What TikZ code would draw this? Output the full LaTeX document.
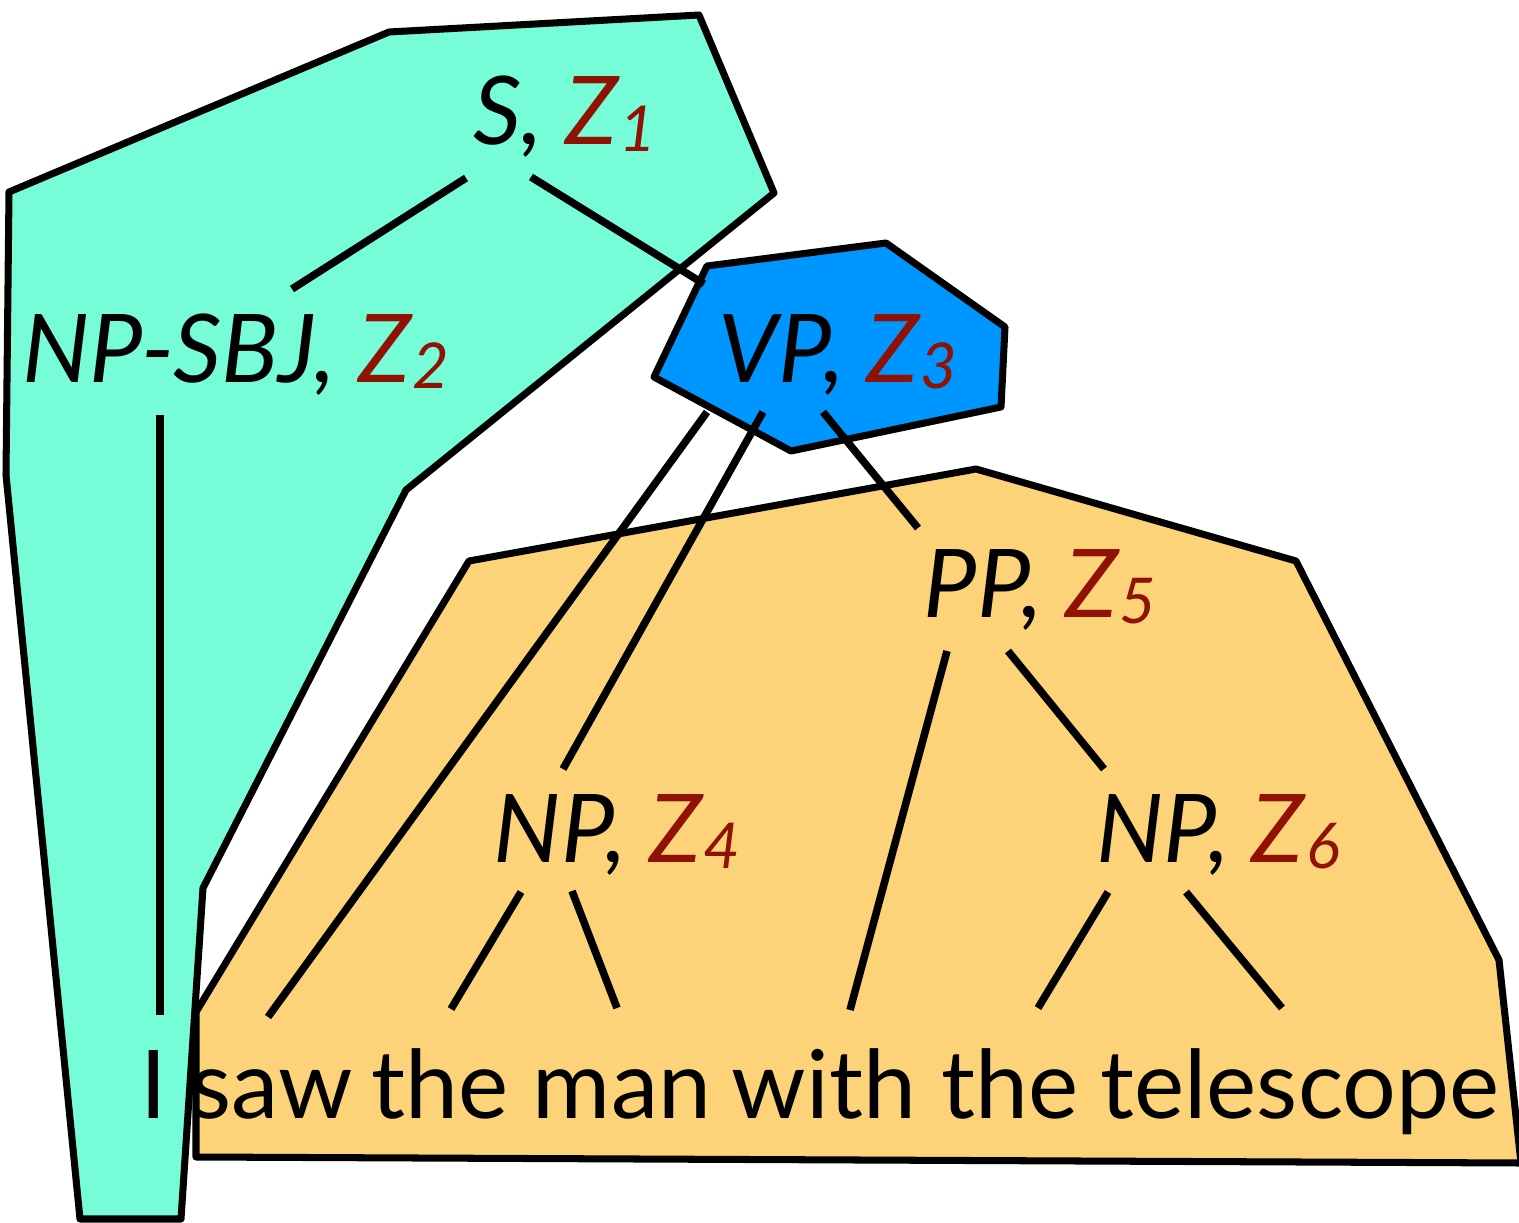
\documentclass[tikz,border=0pt]{standalone}
\usepackage{fontspec}
\setmainfont{Lato}
\usetikzlibrary{positioning}
\definecolor{chunkgreen}{RGB}{119,252,216}
\definecolor{chunkblue}{RGB}{0,150,255}
\definecolor{chunkorange}{RGB}{253,211,122}
\definecolor{zred}{RGB}{143,18,5}
\newcommand{\zsub}[1]{\textcolor{zred}{Z\kern1pt\raisebox{-3.5pt}{\fontsize{36}{36}\selectfont #1}}}

\begin{document}
\begin{tikzpicture}[x=0.02cm,y=-0.02cm]
\tikzset{
  chunk/.style={draw=black,line width=4pt,line join=round},
  branch/.style={draw=black,line width=4.3pt},
  catlabel/.style={anchor=base,inner sep=0pt,font=\fontsize{54}{60}\selectfont\itshape},
  word/.style={anchor=base,inner sep=0pt,font=\fontsize{54}{60}\selectfont}
}
\useasboundingbox (0,0) rectangle (1519,1223);
% chunks
\path[chunk,fill=chunkgreen] (389,32) -- (699,15) -- (774,193) -- (406,490) -- (203,888) -- (181,1219) -- (80,1219) -- (6,475) -- (9,192) -- cycle;
\path[chunk,fill=chunkorange] (469,561) -- (976,469) -- (1296,561) -- (1499,960) -- (1521,1163) -- (196,1157) -- (196,1012) -- cycle;
\path[chunk,fill=chunkblue] (707,266) -- (886,243) -- (1005,327) -- (1001,407) -- (791,451) -- (654,377) -- cycle;
% labels
\node[catlabel] (n_S) at (565,145) {S, \zsub{1}};
\node[catlabel] (n_NPSBJ) at (236,382) {NP-SBJ, \zsub{2}};
\node[catlabel] (n_VP) at (838,382) {VP, \zsub{3}};
\node[catlabel] (n_PP) at (1040,617) {PP, \zsub{5}};
\node[catlabel] (n_NPa) at (617,862) {NP, \zsub{4}};
\node[catlabel] (n_NPb) at (1218,862) {NP, \zsub{6}};
% words
\node[word] (w_I) at (154,1118) {I};
\node[word] (w_saw) at (272,1118) {saw};
\node[word] (w_the) at (440,1118) {the};
\node[word] (w_man) at (622,1118) {man};
\node[word] (w_with) at (824,1118) {with};
\node[word] (w_theb) at (1010,1118) {the};
\node[word] (w_telescope) at (1300,1118) {telescope};
% branch ends
\coordinate (S_l) at (466,178);
\coordinate (S_r) at (531,177);
\coordinate (NPSBJ_t) at (292,289);
\coordinate (NPSBJ_b) at (160,415);
\coordinate (VP_t) at (704,284);
\coordinate (VP_l) at (707,412);
\coordinate (VP_m) at (763,412);
\coordinate (VP_r) at (823,412);
\coordinate (NPa_t) at (563,769);
\coordinate (NPa_l) at (521,892);
\coordinate (NPa_r) at (572,891);
\coordinate (PP_t) at (918,528);
\coordinate (PP_l) at (947,651);
\coordinate (PP_r) at (1008,651);
\coordinate (NPb_t) at (1104,769);
\coordinate (NPb_l) at (1108,892);
\coordinate (NPb_r) at (1186,892);
\coordinate (I_t) at (160,1015);
\coordinate (saw_t) at (268,1017);
\coordinate (the_t) at (451,1009);
\coordinate (man_t) at (617,1008);
\coordinate (with_t) at (850,1010);
\coordinate (theb_t) at (1038,1008);
\coordinate (telescope_t) at (1282,1008);
% branches
\draw[branch] (S_l) -- (NPSBJ_t);
\draw[branch] (S_r) -- (VP_t);
\draw[branch] (NPSBJ_b) -- (I_t);
\draw[branch] (VP_l) -- (saw_t);
\draw[branch] (VP_m) -- (NPa_t);
\draw[branch] (VP_r) -- (PP_t);
\draw[branch] (NPa_l) -- (the_t);
\draw[branch] (NPa_r) -- (man_t);
\draw[branch] (PP_l) -- (with_t);
\draw[branch] (PP_r) -- (NPb_t);
\draw[branch] (NPb_l) -- (theb_t);
\draw[branch] (NPb_r) -- (telescope_t);
\end{tikzpicture}
\end{document}
